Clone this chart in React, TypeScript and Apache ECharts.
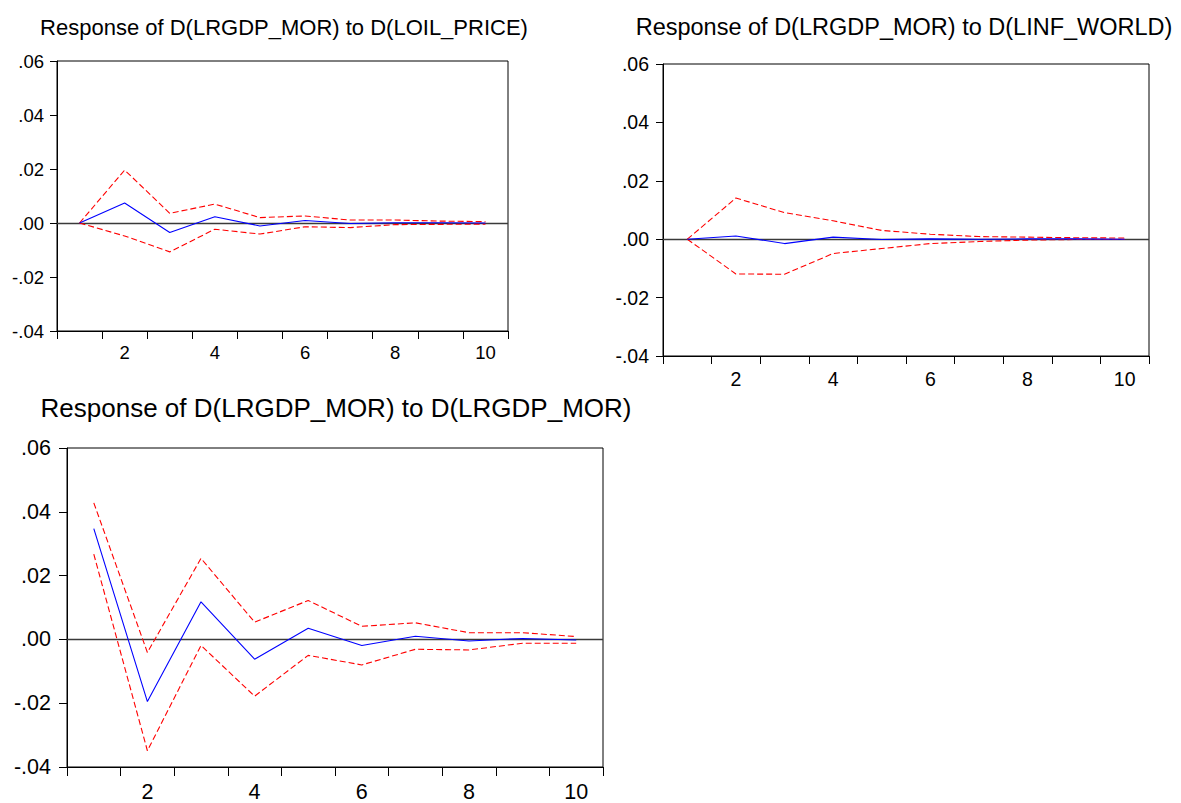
import React, { useEffect, useRef } from "react";
import * as echarts from "echarts";

const periods = ["1", "2", "3", "4", "5", "6", "7", "8", "9", "10"];

const oilResponse = [0, 0.0074, -0.0035, 0.0023, -0.0011, 0.0009, -0.0002, 0.0001, 0.0001, 0.0];
const oilUpper = [0, 0.0196, 0.0036, 0.007, 0.002, 0.0026, 0.0011, 0.0011, 0.0007, 0.0005];
const oilLower = [0, -0.0048, -0.0107, -0.0023, -0.0041, -0.0014, -0.0017, -0.0006, -0.0005, -0.0004];

const infResponse = [0, 0.0011, -0.0015, 0.0007, -0.0001, 0.0001, 0.0, 0.0001, 0.0001, 0.0];
const infUpper = [0, 0.0141, 0.0091, 0.0063, 0.003, 0.0017, 0.0009, 0.0007, 0.0005, 0.0004];
const infLower = [0, -0.0119, -0.012, -0.0049, -0.0032, -0.0015, -0.0008, -0.0003, -0.0001, -0.0001];

const gdpResponse = [0.0347, -0.0195, 0.0118, -0.0062, 0.0035, -0.0019, 0.001, -0.0005, 0.0003, -0.0002];
const gdpUpper = [0.0428, -0.0041, 0.0254, 0.0054, 0.0122, 0.0041, 0.0052, 0.0021, 0.0021, 0.0009];
const gdpLower = [0.0267, -0.0349, -0.0019, -0.0178, -0.005, -0.008, -0.0031, -0.0033, -0.0012, -0.0012];

const panelTitles = [
  "Response of D(LRGDP_MOR) to D(LOIL_PRICE)",
  "Response of D(LRGDP_MOR) to D(LINF_WORLD)",
  "Response of D(LRGDP_MOR) to D(LRGDP_MOR)",
];

const yMin = -0.04;
const yMax = 0.06;
const yStep = 0.02;

const panels = [
  { left: 57, top: 61, width: 451, height: 270, font: 18.5, titleFont: 22, titleX: 284, titleY: 27, tick: 8, yMargin: 13, xMargin: 12, resp: oilResponse, up: oilUpper, lo: oilLower },
  { left: 663, top: 64, width: 486, height: 292, font: 19.5, titleFont: 23.5, titleX: 904, titleY: 27, tick: 8, yMargin: 14, xMargin: 13, resp: infResponse, up: infUpper, lo: infLower },
  { left: 67, top: 448, width: 536, height: 324, font: 21.5, titleFont: 26, titleX: 336, titleY: 408, tick: 9, yMargin: 16, xMargin: 14, resp: gdpResponse, up: gdpUpper, lo: gdpLower },
];

const fmtY = (v: number) => v.toFixed(2).replace(/^(-?)0\./, "$1.");

export default function App() {
  const ref = useRef<HTMLDivElement>(null);
  useEffect(() => {
    if (!ref.current) return;
    const chart = echarts.init(ref.current, null, { renderer: "svg" });
    const font = "'Liberation Sans', Arial, sans-serif";
    const grid: any[] = [];
    const xAxis: any[] = [];
    const yAxis: any[] = [];
    const series: any[] = [];
    const graphic: any[] = [];
    panels.forEach((p, i) => {
      grid.push({
        left: p.left,
        top: p.top,
        width: p.width,
        height: p.height,
        show: true,
        borderColor: "#000",
        borderWidth: 1,
        backgroundColor: "#fff",
      });
      xAxis.push({
        type: "category",
        gridIndex: i,
        data: periods,
        boundaryGap: true,
        position: "bottom",
        axisLine: { show: true, onZero: false, lineStyle: { color: "#000", width: 1 } },
        axisTick: { show: true, interval: 0, length: p.tick, lineStyle: { color: "#000" } },
        axisLabel: {
          interval: (idx: number) => idx % 2 === 1,
          color: "#000",
          fontFamily: font,
          fontSize: p.font,
          margin: p.xMargin,
        },
        splitLine: { show: false },
      });
      yAxis.push({
        type: "value",
        gridIndex: i,
        min: yMin,
        max: yMax,
        interval: yStep,
        axisLine: { show: true, onZero: false, lineStyle: { color: "#000", width: 1 } },
        axisTick: { show: true, length: p.tick - 1, lineStyle: { color: "#000" } },
        axisLabel: {
          formatter: fmtY,
          color: "#000",
          fontFamily: font,
          fontSize: p.font,
          margin: p.yMargin,
        },
        splitLine: { show: false },
      });
      series.push({
        type: "line",
        xAxisIndex: i,
        yAxisIndex: i,
        data: p.resp,
        showSymbol: false,
        symbol: "none",
        lineStyle: { color: "#0000ff", width: 1.1 },
        z: 4,
        markLine: {
          silent: true,
          symbol: "none",
          label: { show: false },
          lineStyle: { color: "#3a3a3a", width: 1.3, type: "solid" },
          data: [{ yAxis: 0 }],
          z: 2,
        },
      });
      [p.up, p.lo].forEach((d) => {
        series.push({
          type: "line",
          xAxisIndex: i,
          yAxisIndex: i,
          data: d,
          showSymbol: false,
          symbol: "none",
          lineStyle: { color: "#ff0000", width: 1.1, type: [6, 3] },
          z: 3,
        });
      });
      graphic.push({
        type: "text",
        x: p.titleX,
        y: p.titleY,
        style: {
          text: panelTitles[i],
          font: `${p.titleFont}px ${font}`,
          fill: "#000",
          textAlign: "center",
          textVerticalAlign: "middle",
        },
      });
    });
    chart.setOption({
      animation: false,
      backgroundColor: "#fff",
      grid,
      xAxis,
      yAxis,
      series,
      graphic,
    });
    return () => chart.dispose();
  }, []);
  return (
    <div
      ref={ref}
      style={{ position: "absolute", left: 0, top: 0, width: 1181, height: 803, background: "#fff" }}
    />
  );
}
